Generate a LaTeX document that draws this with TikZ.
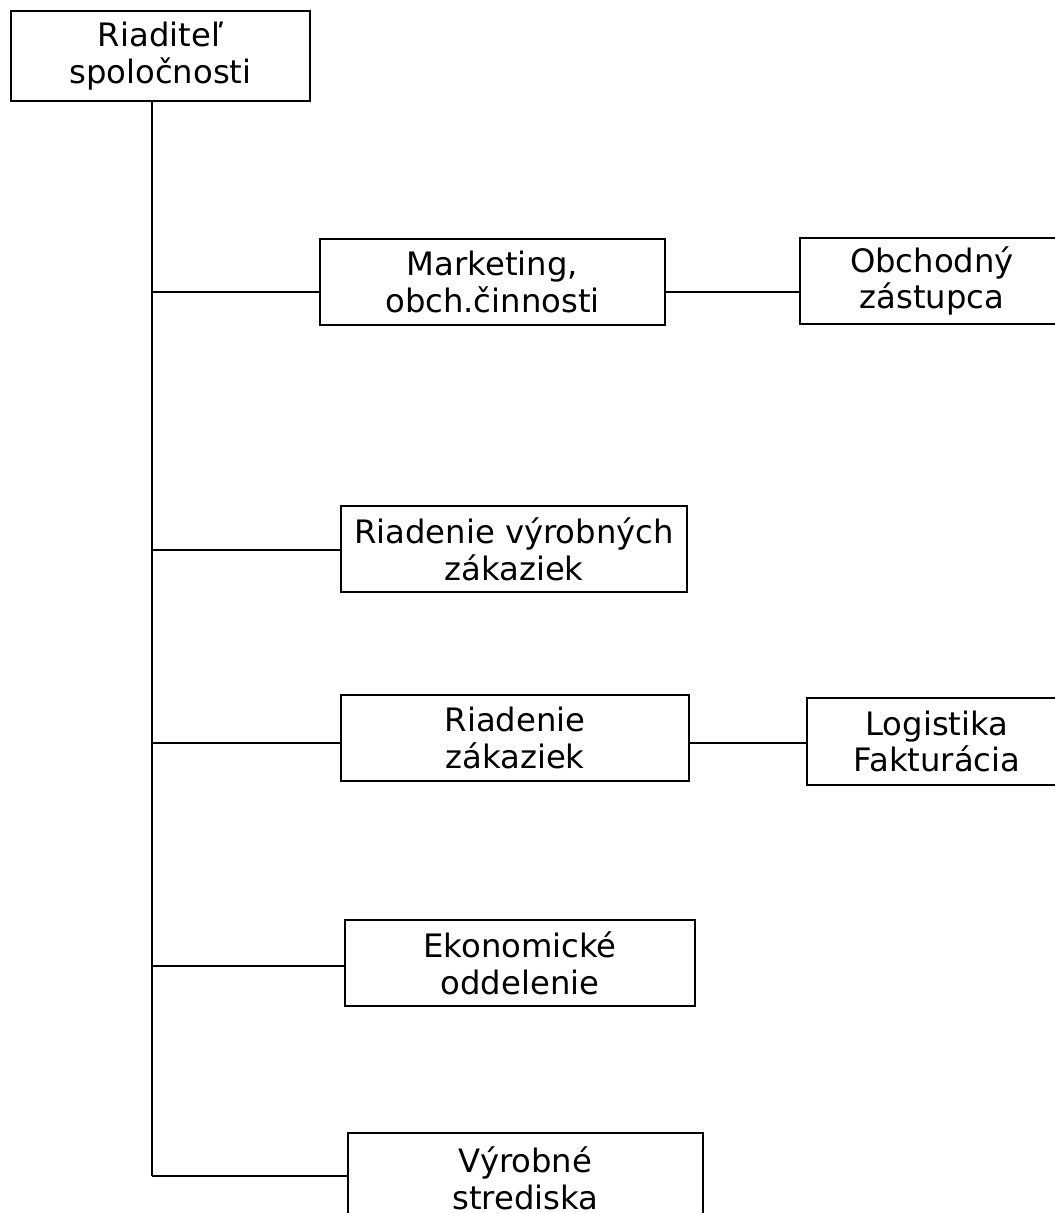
\documentclass[tikz,border=0pt]{standalone}
\usepackage{fontspec}
\setmainfont{DejaVu Sans}
\begin{document}
\begin{tikzpicture}[x=0.75pt,y=-0.75pt,
  orgbox/.style={draw=black,line width=2.2pt,rectangle,inner sep=0pt,align=center,
    font=\fontsize{24.2pt}{27.5pt}\selectfont},
  link/.style={draw=black,line width=1.9pt}]
\useasboundingbox[fill=white] (0,0) rectangle (1054,1213);
\node[orgbox,minimum width=224.25pt,minimum height=67.5pt] (top) at (160.5,56) {Riaditeľ\\spoločnosti};
\node[orgbox,minimum width=258.75pt,minimum height=64.5pt] (mkt) at (492.5,282) {Marketing,\\obch.činnosti};
\node[orgbox,minimum width=198pt,minimum height=64.5pt] (obch) at (932,281) {Obchodný\\zástupca};
\node[orgbox,minimum width=259.5pt,minimum height=64.5pt] (rvz) at (514,549) {Riadenie výrobných\\zákaziek};
\node[orgbox,minimum width=261pt,minimum height=64.5pt] (rz) at (515,738) {Riadenie\\zákaziek};
\node[orgbox,minimum width=195pt,minimum height=65.25pt] (log) at (937,741.5) {Logistika\\Fakturácia};
\node[orgbox,minimum width=262.5pt,minimum height=64.5pt] (eko) at (520,963) {Ekonomické\\oddelenie};
\node[orgbox,minimum width=266.25pt,minimum height=67.5pt] (vyr) at (525.5,1178) {Výrobné\\strediska};
\coordinate (j1) at (152,292);
\coordinate (j2) at (152,550);
\coordinate (j3) at (152,743);
\coordinate (j4) at (152,966);
\coordinate (j5) at (152,1176);
\draw[link] (top.south -| j1) -- (j5);
\draw[link] (j1) -- (j1 -| mkt.west);
\draw[link] (j2) -- (j2 -| rvz.west);
\draw[link] (j3) -- (j3 -| rz.west);
\draw[link] (j4) -- (j4 -| eko.west);
\draw[link] (j5) -- (j5 -| vyr.west);
\draw[link] (mkt.east |- j1) -- (j1 -| obch.west);
\draw[link] (rz.east |- j3) -- (j3 -| log.west);
\end{tikzpicture}
\end{document}
